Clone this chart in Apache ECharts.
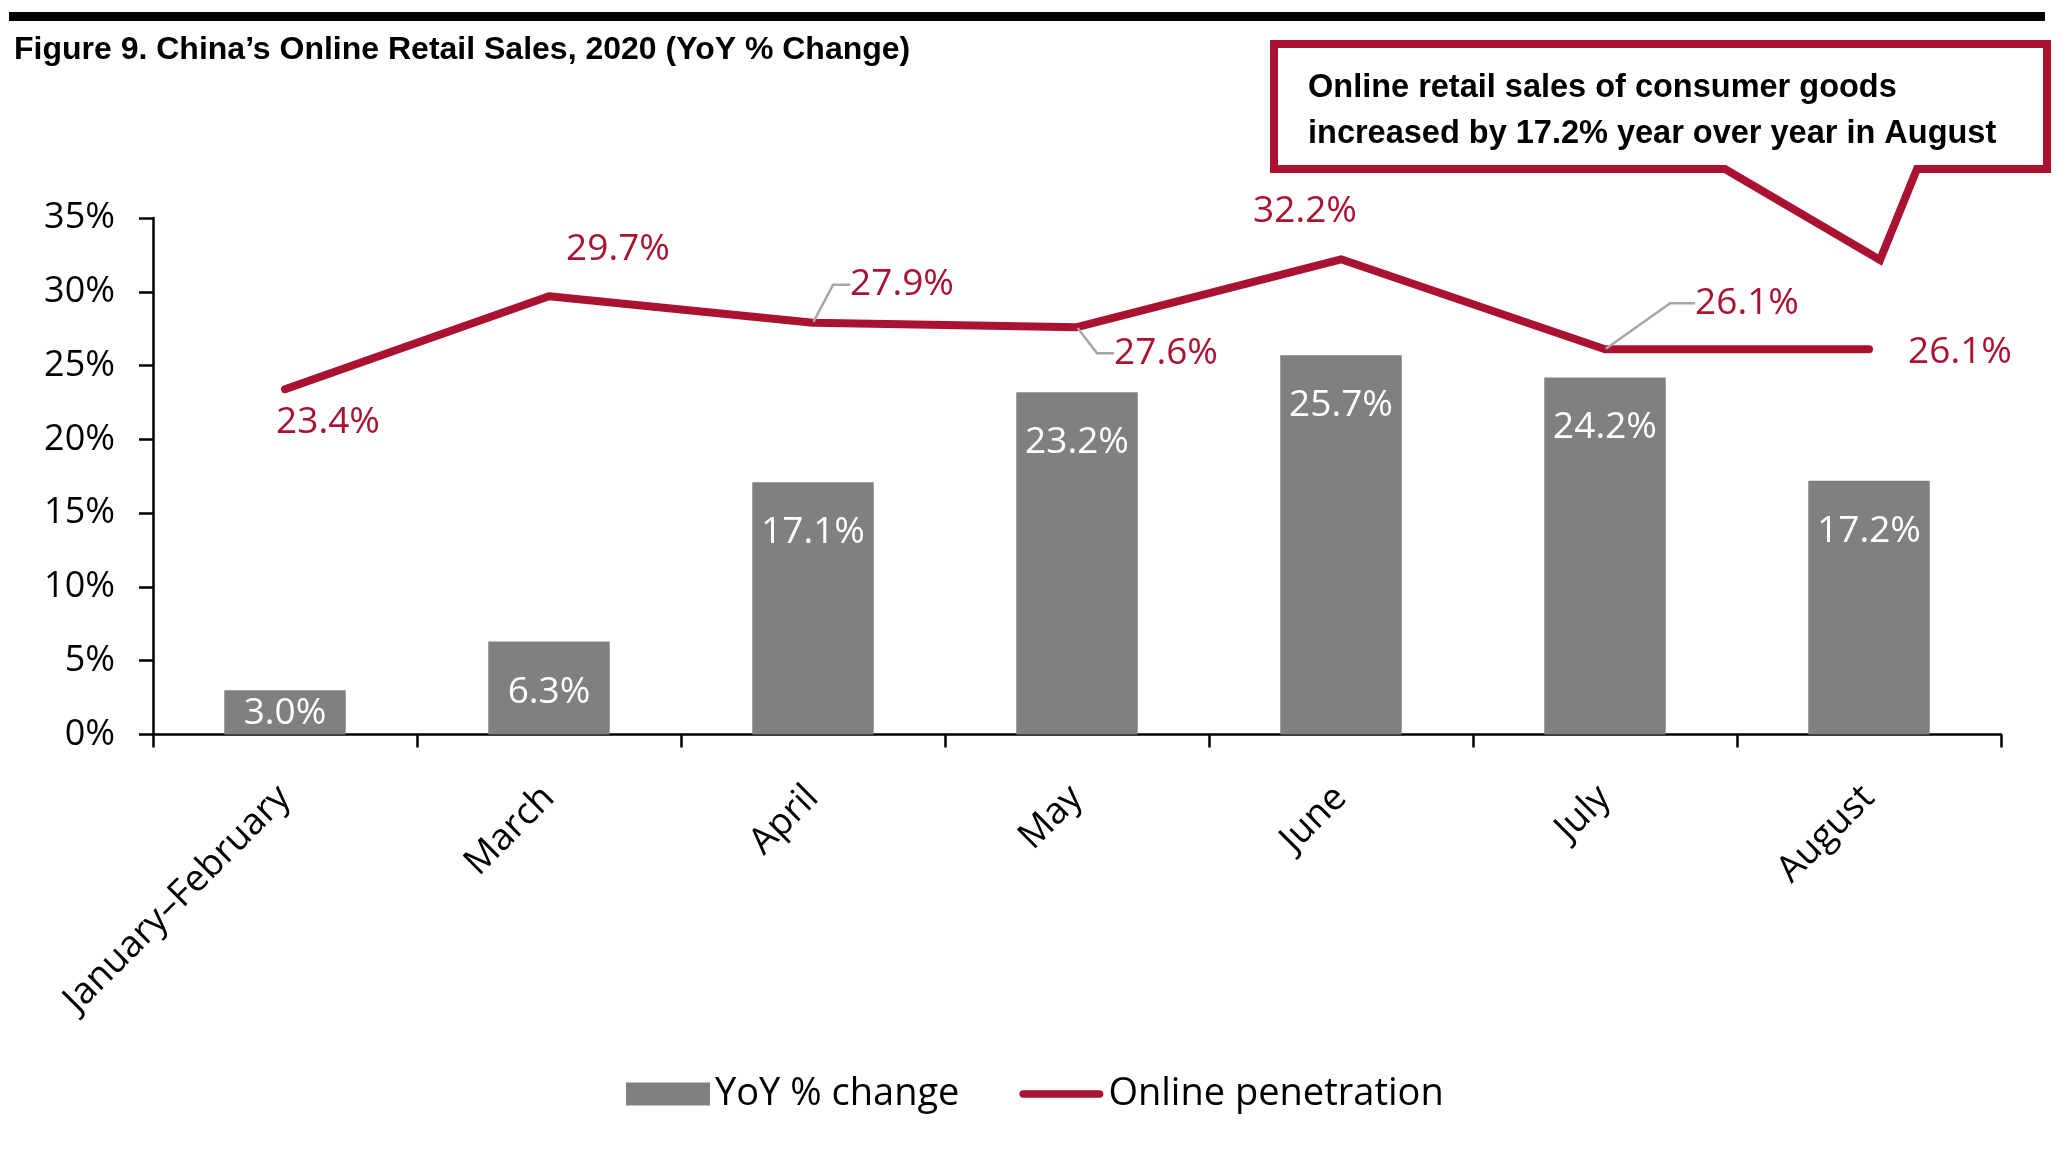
<!DOCTYPE html>
<html>
<head>
<meta charset="utf-8">
<script src="https://cdn.jsdelivr.net/npm/echarts@6/dist/echarts.min.js"></script>
<style>
html,body{margin:0;padding:0;background:#ffffff;}
#chart{width:2064px;height:1168px;}
</style>
</head>
<body>
<div id="chart"></div>
<script>
// ---------------- data ----------------
const categories = ['January–February', 'March', 'April', 'May', 'June', 'July', 'August'];
const yoyChange = [3.0, 6.3, 17.1, 23.2, 25.7, 24.2, 17.2];
const onlinePenetration = [23.4, 29.7, 27.9, 27.6, 32.2, 26.1, 26.1];
const legendNames = ['YoY % change', 'Online penetration'];
const yAxisMin = 0, yAxisMax = 35, yAxisStep = 5;
const titleText = 'Figure 9. China\u2019s Online Retail Sales, 2020 (YoY % Change)';
const calloutLines = ['Online retail sales of consumer goods', 'increased by 17.2% year over year in August'];

// ---------------- styling ----------------
const RED = '#AA1231';
const GRAY = '#808080';
const LEADER = '#A6A6A6';
const FONT = '"Open Sans", "Noto Sans", sans-serif';
const BOLD_FONT = '"Liberation Sans", Arial, sans-serif';

// label placement (offsets from each point), leader line lengths
const lineLabelOffsets = [[43, 33], [69, -47], [89, -38], [89, 26], [-36, -48], [142, -46], [91, 3]];
const lineLeaderLen = [0, 0, 17, 17, 0, 25, 0];
const barLabelDistance = [5, 32, 32, 32, 32, 32, 32];

const lineData = onlinePenetration.map((v, i) => {
  const hasLeader = lineLeaderLen[i] > 0;
  return {
    value: v,
    label: {
      position: 'inside',
      offset: lineLabelOffsets[i],
      padding: hasLeader ? [0, 10, 0, 10] : 0
    },
    labelLine: hasLeader ? {
      show: true,
      length2: lineLeaderLen[i],
      lineStyle: { color: LEADER, width: 2.5 }
    } : { show: false }
  };
});

const barData = yoyChange.map((v, i) => ({
  value: v,
  label: { distance: barLabelDistance[i] }
}));

const chart = echarts.init(document.getElementById('chart'), null, { renderer: 'canvas' });

const option = {
  backgroundColor: '#ffffff',
  animation: false,
  grid: { left: 153, right: 63, top: 218, bottom: 433.5, containLabel: false },
  legend: {
    left: 621,
    top: 1070,
    itemWidth: 84,
    itemHeight: 23,
    itemGap: 60,
    textStyle: { fontFamily: FONT, fontSize: 38, color: '#000000' },
    data: [
      { name: legendNames[0], icon: 'rect', itemStyle: { color: GRAY } },
      { name: legendNames[1], icon: 'path://M4,0 L84,0 A4,4 0 0 1 84,8 L4,8 A4,4 0 0 1 4,0 Z', itemStyle: { color: RED } }
    ]
  },
  xAxis: {
    type: 'category',
    data: categories,
    boundaryGap: true,
    axisLine: { show: true, lineStyle: { color: '#000000', width: 2.5 } },
    axisTick: { show: true, inside: false, length: 13, alignWithLabel: false, lineStyle: { color: '#000000', width: 2.5 } },
    axisLabel: {
      interval: 0,
      rotate: 45,
      margin: 31,
      align: 'right',
      verticalAlign: 'top',
      padding: [0, 19, 0, 0],
      fontFamily: FONT,
      fontSize: 37,
      color: '#000000'
    },
    splitLine: { show: false }
  },
  yAxis: {
    type: 'value',
    min: yAxisMin,
    max: yAxisMax,
    interval: yAxisStep,
    axisLine: { show: true, lineStyle: { color: '#000000', width: 2.5 } },
    axisTick: { show: true, inside: false, length: 14, lineStyle: { color: '#000000', width: 2.5 } },
    axisLabel: {
      formatter: '{value}%',
      margin: 38,
      fontFamily: FONT,
      fontSize: 36,
      color: '#000000'
    },
    splitLine: { show: false }
  },
  series: [
    {
      name: legendNames[0],
      type: 'bar',
      data: barData,
      barWidth: '46%',
      itemStyle: { color: GRAY },
      label: {
        show: true,
        position: 'insideTop',
        formatter: p => p.value.toFixed(1) + '%',
        fontFamily: FONT,
        fontSize: 37,
        color: '#ffffff'
      },
      emphasis: { disabled: true }
    },
    {
      name: legendNames[1],
      type: 'line',
      data: lineData,
      symbol: 'circle',
      symbolSize: 2,
      showSymbol: true,
      itemStyle: { color: RED },
      lineStyle: { color: RED, width: 8, cap: 'round', join: 'round' },
      label: {
        show: true,
        formatter: p => p.value.toFixed(1) + '%',
        fontFamily: FONT,
        fontSize: 37,
        color: RED,
        align: 'center',
        verticalAlign: 'middle'
      },
      emphasis: { disabled: true },
      z: 3
    }
  ],
  graphic: [
    { type: 'rect', shape: { x: 9, y: 12, width: 2036, height: 9 }, style: { fill: '#000000' }, z: 10 },
    {
      type: 'text', x: 14, y: 50,
      style: { text: titleText, font: 'bold 32px ' + BOLD_FONT, fill: '#000000', verticalAlign: 'middle', align: 'left' },
      z: 10
    },
    {
      type: 'polygon',
      shape: { points: [[1274, 44], [2047, 44], [2047, 169], [1917, 169], [1880, 260], [1725, 169], [1274, 169]] },
      style: { fill: '#ffffff', stroke: RED, lineWidth: 8, lineJoin: 'miter' },
      z: 10
    },
    {
      type: 'text', x: 1308, y: 88,
      style: { text: calloutLines[0], font: 'bold 32.5px ' + BOLD_FONT, fill: '#000000', verticalAlign: 'middle', align: 'left' },
      z: 11
    },
    {
      type: 'text', x: 1308, y: 134,
      style: { text: calloutLines[1], font: 'bold 32.5px ' + BOLD_FONT, fill: '#000000', verticalAlign: 'middle', align: 'left' },
      z: 11
    }
  ]
};

chart.setOption(option);
</script>
</body>
</html>
